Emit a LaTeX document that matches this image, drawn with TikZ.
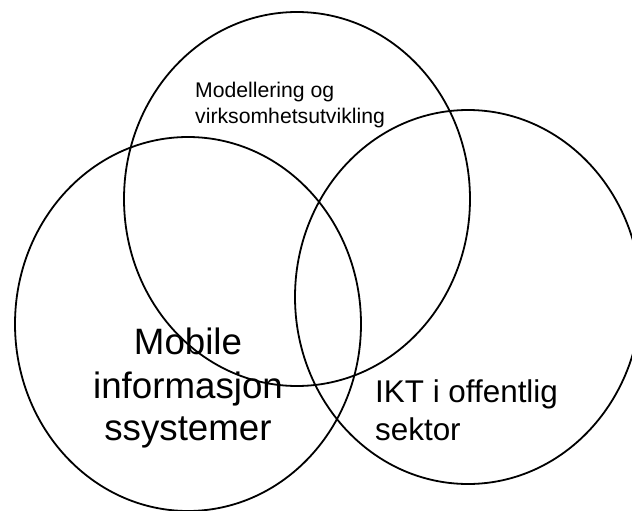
\documentclass[tikz,border=0pt]{standalone}
\usepackage{fontspec}
\setmainfont{Liberation Sans}
\usetikzlibrary{shapes.geometric}
\tikzset{
  venn/.style={draw=black, line width=1.8pt, ellipse, minimum width=346pt, minimum height=374pt, inner sep=0pt},
  smalltxt/.style={inner sep=0pt, font=\fontsize{21.2}{25}\selectfont},
  bigtxt/.style={inner sep=0pt, font=\fontsize{36.7}{43}\selectfont},
  midtxt/.style={inner sep=0pt, font=\fontsize{31.4}{37}\selectfont}
}
\begin{document}
\begin{tikzpicture}[x=1pt, y=-1pt]
\useasboundingbox (0,0) rectangle (632,511);
\node[venn] (top) at (297,199) {};
\node[venn] (left) at (188,324) {};
\node[venn] (right) at (468,297) {};
\node[smalltxt, anchor=base west] (m1) at (195,97.5) {Modellering og};
\node[smalltxt, anchor=base west] (m2) at (195,123) {virksomhetsutvikling};
\node[bigtxt, anchor=base] (b1) at (188,354.5) {Mobile};
\node[bigtxt, anchor=base] (b2) at (188,398) {informasjon};
\node[bigtxt, anchor=base] (b3) at (188,440.5) {ssystemer};
\node[midtxt, anchor=base west] (i1) at (375,402.5) {IKT i offentlig};
\node[midtxt, anchor=base west] (i2) at (375,440) {sektor};
\end{tikzpicture}
\end{document}
